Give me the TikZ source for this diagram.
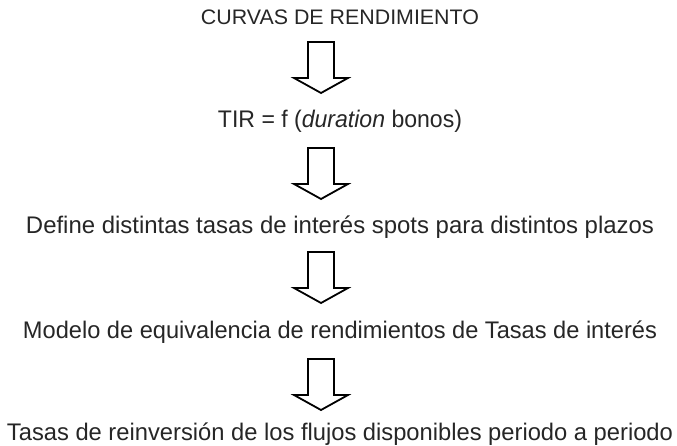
\documentclass[tikz,border=0pt]{standalone}
\usepackage{fontspec}
\setmainfont{Liberation Sans}
\usepackage{graphicx}
\newcommand\fitw[2]{\resizebox{#1pt}{\height}{#2}}
\tikzset{
  lbl/.style={anchor=base, inner sep=0pt, text=black!85, font=\fontsize{24}{28}\selectfont},
  blockarr/.style={draw=black, fill=white, line width=1.8pt, line join=miter},
}
\begin{document}
\begin{tikzpicture}[x=1pt,y=-1pt]
\useasboundingbox (0,0) rectangle (677,446);
\node[lbl, font=\fontsize{21}{25}\selectfont] (curvas) at (340,25) {\fitw{278}{CURVAS DE RENDIMIENTO}};
\node[lbl] (tir) at (340,128) {\fitw{244}{TIR = f (\textit{duration} bonos)}};
\node[lbl] (spots) at (340,234) {\fitw{628}{Define distintas tasas de interés spots para distintos plazos}};
\node[lbl] (modelo) at (340,338) {\fitw{634}{Modelo de equivalencia de rendimientos de Tasas de interés}};
\node[lbl] (reinv) at (340,440) {\fitw{666}{Tasas de reinversión de los flujos disponibles periodo a periodo}};
% block arrows between the lines
\foreach \t/\n in {42/a1,148/a2,252/a3,359/a4}{
  \coordinate (\n) at (321,\t);
  \draw[blockarr] (\n) ++(-13,0) -- ++(26,0) -- ++(0,36) -- ++(14,0) -- ++(-27,15) -- ++(-27,-15) -- ++(14,0) -- cycle;
}
\end{tikzpicture}
\end{document}
